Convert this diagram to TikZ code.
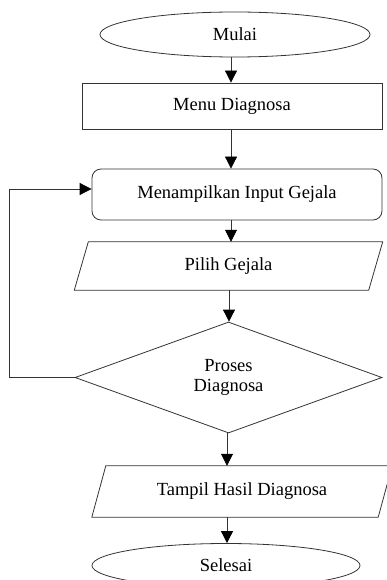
\documentclass[tikz,border=0pt]{standalone}
\usepackage{fontspec}
\setmainfont{Liberation Serif}
\usetikzlibrary{shapes.geometric,arrows.meta}
\begin{document}
\begin{tikzpicture}[x=1pt,y=-1pt,
  every node/.style={font=\fontsize{18.5}{20}\selectfont, inner sep=0pt, align=center},
  ln/.style={draw=black!80, line width=0.8pt},
  arr/.style={ln, -{Triangle[width=12pt,length=12pt,color=black]}},
  term/.style={ln, ellipse},
  boxr/.style={ln, rectangle},
  plain/.style={rectangle}]
\useasboundingbox (0,0) rectangle (387,580);

\node[term, minimum width=270, minimum height=45] (mulai) at (235,34.5) {Mulai};
\node[boxr, minimum width=300, minimum height=46] (menu) at (232,106) {Menu Diagnosa};
\node[boxr, rounded corners=9pt, minimum width=290, minimum height=51] (tampilin) at (237,194.5) {Menampilkan Input Gejala};
\node[plain, minimum width=294, minimum height=48] (pilih) at (228.5,266) {Pilih Gejala};
\draw[ln] ([xshift=7pt]pilih.north west) -- ([xshift=7pt]pilih.north east)
  -- ([xshift=-7pt]pilih.south east) -- ([xshift=-7pt]pilih.south west) -- cycle;
\node[ln, diamond, minimum width=307, minimum height=111] (proses) at (228.5,377.5) {Proses\\Diagnosa};
\node[plain, minimum width=286, minimum height=51] (hasil) at (242,491.5) {Tampil Hasil Diagnosa};
\draw[ln] ([xshift=7pt]hasil.north west) -- ([xshift=7pt]hasil.north east)
  -- ([xshift=-7pt]hasil.south east) -- ([xshift=-7pt]hasil.south west) -- cycle;
\node[term, minimum width=268, minimum height=44] (selesai) at (226,565.5) {Selesai};

\coordinate (ax1) at (231,0);
\coordinate (ax2) at (229,0);
\coordinate (ax3) at (227,0);
\coordinate (lp) at (9,189);

\draw[arr] (mulai.south -| ax1) -- (menu.north -| ax1);
\draw[arr] (menu.south -| ax1) -- (tampilin.north -| ax1);
\draw[arr] (tampilin.south -| ax1) -- (pilih.north -| ax1);
\draw[arr] (pilih.south -| ax2) -- (proses.north -| ax2);
\draw[arr] (proses.south -| ax3) -- (hasil.north -| ax3);
\draw[arr] (hasil.south -| ax3) -- (selesai.north -| ax3);
\draw[arr] (proses.west) -| (lp) -- (lp -| tampilin.west);
\end{tikzpicture}
\end{document}
